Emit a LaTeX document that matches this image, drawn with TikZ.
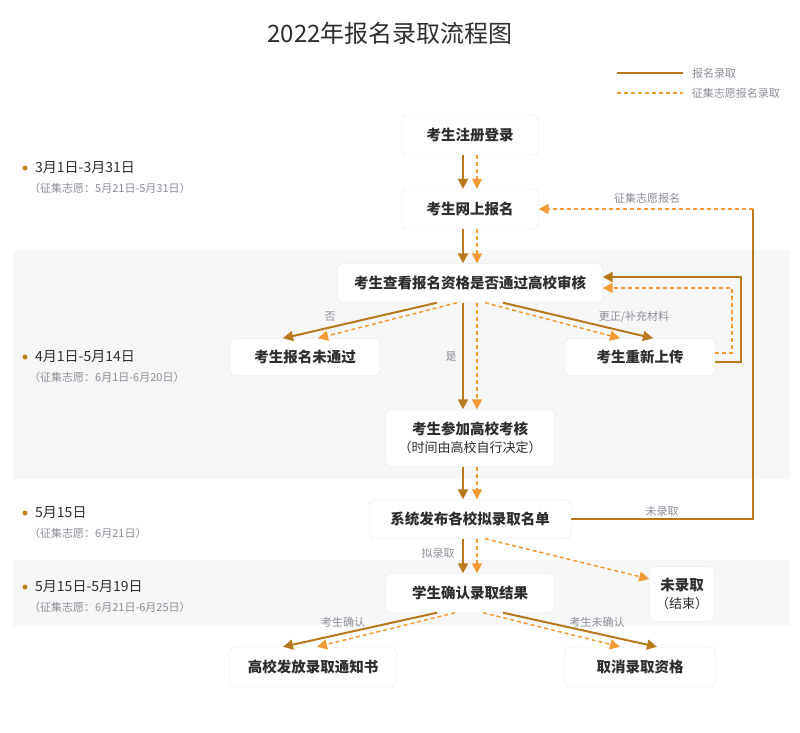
\documentclass[tikz,border=0pt]{standalone}
\usepackage{fontspec}
\setmainfont{Noto Sans CJK SC}
\usetikzlibrary{arrows.meta}
\definecolor{luqu}{RGB}{184,120,30}
\definecolor{zhengji}{RGB}{244,154,52}
\definecolor{wenzi}{RGB}{45,45,45}
\definecolor{huise}{RGB}{140,140,152}
\definecolor{dise}{RGB}{247,247,247}
\definecolor{dian}{RGB}{190,130,30}
\tikzset{
  box/.style={draw=black!10, fill=white, rounded corners=5pt, text=wenzi, inner sep=0pt,
    align=center, font=\fontsize{14.5}{17}\selectfont\bfseries},
  zhu/.style={draw=luqu, line width=2pt, -{Triangle[length=10pt,width=10pt]}},
  xu/.style={draw=zhengji, line width=1.5pt, dash pattern=on 4pt off 3pt,
    -{Triangle[length=10pt,width=10pt,fill=zhengji]}},
  biaoqian/.style={text=huise, font=\fontsize{11}{13}\selectfont, inner sep=1pt},
}
\begin{document}
\begin{tikzpicture}[x=1pt,y=-1pt]
      \useasboundingbox (0,0) rectangle (800,732);
      \fill[dise] (13,250) rectangle (790,479);
      \fill[dise] (13,560) rectangle (790,626);
      \node[text=wenzi, font=\fontsize{24}{28}\selectfont] (T) at (390,33) {2022年报名录取流程图};
      % legend
      \draw[luqu, line width=2pt] (617,73) -- (683,73) node[biaoqian, anchor=west, xshift=7pt] (L1) {报名录取};
      \draw[zhengji, line width=1.5pt, dash pattern=on 4pt off 3pt] (617,93) -- (683,93)
        node[biaoqian, anchor=west, xshift=7pt] (L2) {征集志愿报名录取};
      % timeline
      \foreach \y/\a/\b in {168/3月1日-3月31日/（征集志愿：5月21日-5月31日）,
          357/4月1日-5月14日/（征集志愿：6月1日-6月20日）,
          513/5月15日/（征集志愿：6月21日）,
          587/5月15日-5月19日/（征集志愿：6月21日-6月25日）}{
        \fill[dian] (25,\y) circle (2.5);
        \node[anchor=west, text=wenzi, inner sep=0pt, font=\fontsize{14}{17}\selectfont] at (35,\y) {\a};
        \node[anchor=west, text=huise, inner sep=0pt, font=\fontsize{11}{13}\selectfont] at (29,\y+20) {\b};
      }
      % steps
      \foreach \n/\x/\y/\w/\h/\t in {N1/470/135/137/40/考生注册登录, N2/470/209/137/40/考生网上报名,
          N3/470/283/265/39/考生查看报名资格是否通过高校审核, N4/305/357/150/37/考生报名未通过,
          N5/640/357/150/37/考生重新上传, N7/470/519/202/39/系统发布各校拟录取名单,
          N8/470/593/169/39/学生确认录取结果, N10/313/667/167/40/高校发放录取通知书,
          N11/640/667/151/40/取消录取资格}{
        \node[box, minimum width=\w, minimum height=\h] (\n) at (\x,\y) {\t};
      }
      \node[box, minimum width=169, minimum height=57] (N6) at (470,438)
        {考生参加高校考核\\[1pt]{\fontsize{13}{16}\selectfont\mdseries （时间由高校自行决定）}};
      \node[box, minimum width=65, minimum height=55] (N9) at (682,594)
        {未录取\\[1pt]{\fontsize{13}{16}\selectfont\mdseries （结束）}};
      % main trunk
      \foreach \a/\b in {N1/N2, N2/N3, N3/N6, N6/N7, N7/N8}{
        \draw[zhu] ([xshift=-7pt]\a.south) -- ([xshift=-7pt]\b.north);
        \draw[xu] ([xshift=7pt]\a.south) -- ([xshift=7pt]\b.north);
      }
      % branches
      \draw[zhu] ([xshift=-33pt]N3.south) -- ([xshift=-22pt]N4.north);
      \draw[xu] ([xshift=-13pt]N3.south) -- ([xshift=13pt]N4.north);
      \draw[zhu] ([xshift=33pt]N3.south) -- ([xshift=13pt]N5.north);
      \draw[xu] ([xshift=15pt]N3.south) -- ([xshift=-20pt]N5.north);
      \draw[zhu] ([xshift=-33pt]N8.south) -- ([xshift=-30pt]N10.north);
      \draw[xu] ([xshift=-15pt]N8.south) -- ([xshift=4pt]N10.north);
      \draw[zhu] ([xshift=33pt]N8.south) -- ([xshift=17pt]N11.north);
      \draw[xu] ([xshift=13pt]N8.south) -- ([xshift=-20pt]N11.north);
      \draw[xu] ([xshift=15pt]N7.south) -- ([yshift=15pt]N9.west);
      % loop back
      \draw[zhu] ([yshift=-5pt]N5.east) -- ++(26,0) |- ([yshift=6pt]N3.east);
      \draw[xu] ([yshift=4pt]N5.east) -- ++(17,0) |- ([yshift=-5pt]N3.east);
      \coordinate (R) at (753,209);
      \draw[luqu, line width=2pt] (N7.east) -| (R);
      \draw[xu] (R) -- (N2.east);
      % labels
      \foreach \x/\y/\t in {330/317/否, 634/317/{更正/补充材料}, 451/357/是, 647/198/征集志愿报名,
          662/511/未录取, 438/553/拟录取, 343/622/考生确认, 597/622/考生未确认}{
        \node[biaoqian] at (\x,\y) {\t};
      }
    \end{tikzpicture}
\end{document}
